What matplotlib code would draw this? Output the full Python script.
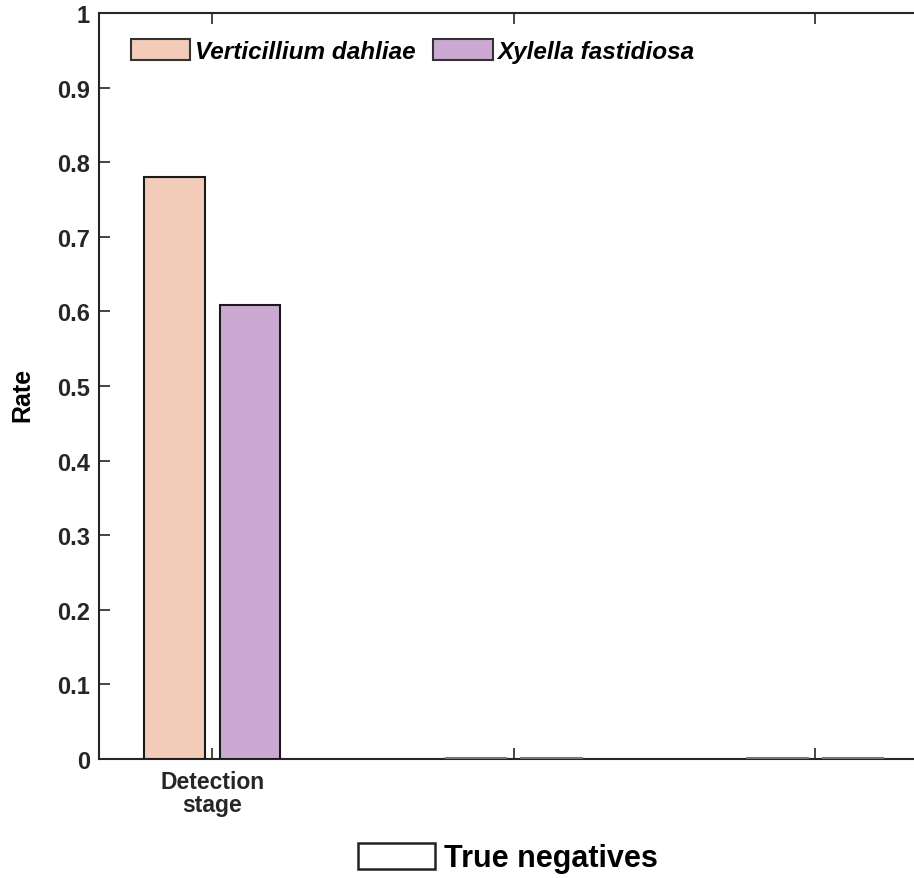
import matplotlib
matplotlib.use("Agg")
import matplotlib.pyplot as plt
from matplotlib.patches import Patch
import numpy as np

plt.rcParams['font.family'] = ['Liberation Sans', 'DejaVu Sans']

group_labels = ["Detection\nstage", "", ""]
series_names = ["Verticillium dahliae", "Xylella fastidiosa"]
verticillium = [0.78, 0.001, 0.001]
xylella = [0.608, 0.001, 0.001]
y_ticks = [0, 0.1, 0.2, 0.3, 0.4, 0.5, 0.6, 0.7, 0.8, 0.9, 1]
y_ticklabels = ["0", "0.1", "0.2", "0.3", "0.4", "0.5", "0.6", "0.7", "0.8", "0.9", "1"]

c_vert = "#f2cbb9"
c_xyl = "#cca9d2"

W, H = 914, 879
fig = plt.figure(figsize=(W / 100, H / 100), dpi=100)
left, right_px, top, bottom = 99, 966, 14, 760
ax = fig.add_axes([left / W, (H - bottom) / H, (right_px - left) / W, (bottom - top) / H])

x = np.arange(1, len(group_labels) + 1)
bw = 0.2
off = 0.125
edge_main = "#1a1a1a"
for i in range(len(x)):
    ec = edge_main if verticillium[i] > 0.01 else "#777777"
    ax.bar(x[i] - off, verticillium[i], bw, color=c_vert, edgecolor=ec, linewidth=1.5, zorder=3)
    ec = edge_main if xylella[i] > 0.01 else "#777777"
    ax.bar(x[i] + off, xylella[i], bw, color=c_xyl, edgecolor=ec, linewidth=1.5, zorder=3)

ax.set_xlim(0.625, 3.5)
ax.set_ylim(0, 1)
ax.set_yticks(y_ticks)
ax.set_yticklabels(y_ticklabels, fontsize=17, fontweight="bold", color="#262626")
ax.set_xticks(x)
ax.set_xticklabels(group_labels, fontsize=16.5, fontweight="bold", color="#262626", linespacing=1.0)
ax.tick_params(axis="both", direction="in", length=8, width=1.2, colors="#262626",
               top=True, right=False)
ax.tick_params(axis="y", pad=6.5, labelcolor="#262626")
ax.tick_params(axis="x", pad=8, labelcolor="#262626")
for s in ["left", "bottom", "top", "right"]:
    ax.spines[s].set_linewidth(1.5)
    ax.spines[s].set_color("#262626")

ax.set_ylabel("Rate", fontsize=18, fontweight="bold")
ax.yaxis.set_label_coords(-0.074, 0.49)

handles = [Patch(facecolor=c_vert, edgecolor="#333333", linewidth=1.5),
           Patch(facecolor=c_xyl, edgecolor="#333333", linewidth=1.5)]
leg = ax.legend(handles, series_names, loc="upper left", ncol=2, frameon=False,
                bbox_to_anchor=(0.02, 0.985), prop={"size": 17.5, "weight": "bold", "style": "italic"},
                handlelength=2.45, handleheight=0.95, handletextpad=0.2, columnspacing=0.7,
                borderaxespad=0.2)

tn = fig.legend([Patch(facecolor="white", edgecolor="#222222", linewidth=1.8)], ["True negatives"],
                loc="center", bbox_to_anchor=(508 / W, 1 - 859 / H), frameon=False,
                prop={"size": 22, "weight": "bold"}, handlelength=2.5, handleheight=0.98,
                handletextpad=0.3)

fig.savefig("out.png", dpi=100)
